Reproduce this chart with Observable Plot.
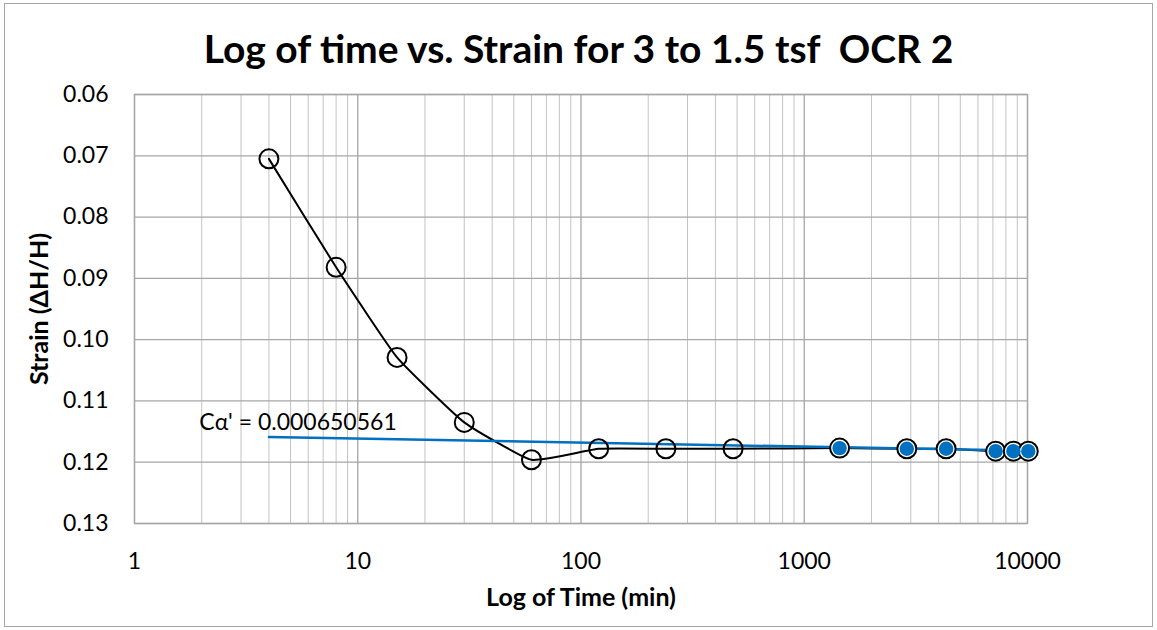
<!DOCTYPE html>
<html>
<head>
<meta charset="utf-8">
<script src="https://cdn.jsdelivr.net/npm/d3@7"></script>
<script src="https://cdn.jsdelivr.net/npm/@observablehq/plot@0.6"></script>
<style>
  html, body { margin: 0; padding: 0; background: #fff; }
  #wrap { position: relative; width: 1157px; height: 630px; font-family: Lato, "Open Sans", sans-serif; }
  #border { position: absolute; left: 4px; top: 3px; width: 1147px; height: 622px; border: 1px solid #a6a6a6; pointer-events: none; }
  #title { position: absolute; left: 0; width: 1157px; top: 25px; text-align: center; font-weight: bold; font-size: 39px; color: #000; line-height: 46px; }
  #chart { position: absolute; left: 0; top: 0; }
</style>
</head>
<body>
<div id="wrap">
  <div id="chart"></div>
  <div id="title">Log of time vs. Strain for 3 to 1.5 tsf&nbsp; OCR 2</div>
  <div id="border"></div>
</div>
<script>
// Data
const times  = [4, 8, 15, 30, 60, 120, 240, 480, 1440, 2880, 4320, 7200, 8640, 10080];
const strain = [0.0705, 0.0882, 0.1029, 0.1135, 0.1196, 0.1178, 0.1178, 0.1178, 0.1177, 0.1178, 0.1178, 0.1182, 0.1182, 0.1182];
const blueTimes  = [1440, 2880, 4320, 7200, 8640, 10080];
const blueStrain = [0.1177, 0.1178, 0.1178, 0.1182, 0.1182, 0.1182];
const trendTimes  = [4, 10080];
const trendStrain = [0.1159, 0.1181];
const trendLabel = "Cα' = 0.000650561";
const xTicks = [1, 10, 100, 1000, 10000];
const yTicks = [0.06, 0.07, 0.08, 0.09, 0.10, 0.11, 0.12, 0.13];

const main = times.map((t, i) => ({t, s: strain[i]}));
const blue = blueTimes.map((t, i) => ({t, s: blueStrain[i]}));
const trend = trendTimes.map((t, i) => ({t, s: trendStrain[i]}));
const minor = [];
for (const d of [1, 10, 100, 1000]) for (let k = 2; k <= 9; k++) minor.push(d * k);

const font = "Lato, 'Open Sans', sans-serif";
const plot = Plot.plot({
  width: 1157,
  height: 630,
  marginLeft: 134,
  marginRight: 130,
  marginTop: 94,
  marginBottom: 107,
  style: {fontFamily: font, fontSize: "23px", color: "#000", background: "transparent"},
  x: {type: "log", domain: [1, 10000]},
  y: {domain: [0.06, 0.13], reverse: true},
  marks: [
    Plot.ruleX(minor, {stroke: "#c4c4c4", strokeWidth: 1}),
    Plot.ruleX(xTicks, {stroke: "#a6a6a6", strokeWidth: 1.3}),
    Plot.ruleY(yTicks, {stroke: "#a6a6a6", strokeWidth: 1.3}),
    Plot.frame({stroke: "#a6a6a6", strokeWidth: 1.3}),
    Plot.axisX({ticks: xTicks, tickSize: 0, tickPadding: 29, tickFormat: d => String(d), fontSize: 23, label: null}),
    Plot.axisY({ticks: yTicks, tickSize: 0, tickPadding: 26, tickFormat: d3.format(".2f"), fontSize: 23, label: null}),
    Plot.line(main, {x: "t", y: "s", stroke: "#000", strokeWidth: 2, curve: "cardinal", tension: 0.6}),
    Plot.line(trend, {x: "t", y: "s", stroke: "#0070c0", strokeWidth: 2.5}),
    Plot.dot(main.filter(d => !blueTimes.includes(d.t)), {x: "t", y: "s", r: 9.5, stroke: "#000", strokeWidth: 2, fill: "none"}),
    Plot.dot(blue, {x: "t", y: "s", r: 9.5, stroke: "#000", strokeWidth: 2, fill: "#fff"}),
    Plot.dot(blue, {x: "t", y: "s", r: 7.2, fill: "#0070c0", stroke: "none"}),
    Plot.text([trendLabel], {x: 5.4, y: 0.1135, fontSize: 23, fill: "#000", textAnchor: "middle"}),
    Plot.text(["Log of Time (min)"], {frameAnchor: "bottom", dy: 74, textAnchor: "middle", lineAnchor: "middle", fontWeight: "bold", fontSize: 25, fill: "#000"}),
    Plot.text(["Strain (ΔH/H)"], {frameAnchor: "left", dx: -95, textAnchor: "middle", lineAnchor: "middle", rotate: -90, fontWeight: "bold", fontSize: 25, fill: "#000"})
  ]
});
document.getElementById("chart").appendChild(plot);
</script>
</body>
</html>
